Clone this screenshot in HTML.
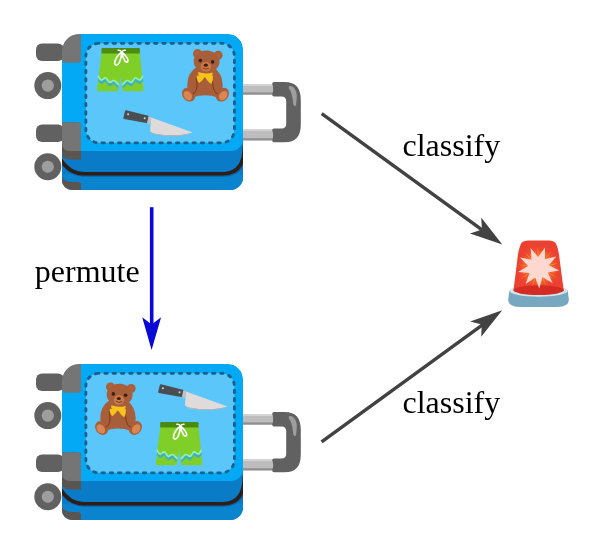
<!DOCTYPE html>
<html><head><meta charset="utf-8"><style>
html,body{margin:0;padding:0;background:#fff;width:600px;height:554px;overflow:hidden}
svg{display:block}
text{font-family:"Liberation Serif",serif;font-size:32px;fill:#000}
svg{will-change:transform}
</style></head><body>
<svg width="600" height="554" viewBox="0 0 600 554">
<defs>
<radialGradient id="glow"><stop offset="0.4" stop-color="#f66a2c" stop-opacity="1"/><stop offset="0.7" stop-color="#f2582e" stop-opacity="0.7"/><stop offset="1" stop-color="#ec4130" stop-opacity="0"/></radialGradient>
<clipPath id="bodyclip"><path d="M62,58 H80.5 V34 H228 A15,15 0 0 1 243,49 V177.4 A12.6,12.6 0 0 1 230.4,190 H72 A10,10 0 0 1 62,180 Z"/></clipPath>
<g id="lug">
  <!-- bumpers -->
  <rect x="36" y="43.5" width="28" height="17.5" rx="6" fill="#616161"/>
  <rect x="36" y="124.5" width="28" height="17.5" rx="6" fill="#616161"/>
  <!-- wheels -->
  <circle cx="47.8" cy="85.6" r="13.5" fill="#616161"/>
  <circle cx="47.8" cy="85.6" r="6.1" fill="#9e9e9e"/>
  <circle cx="47.8" cy="166.8" r="13.5" fill="#616161"/>
  <circle cx="47.8" cy="166.8" r="6.1" fill="#9e9e9e"/>
  <!-- handle rods -->
  <rect x="240" y="84" width="35" height="10.6" fill="#bdbdbd"/>
  <rect x="240" y="84" width="35" height="2" fill="#d3d3d3"/>
  <rect x="240" y="92.4" width="35" height="2.2" fill="#8f8f8f"/>
  <rect x="240" y="129" width="35" height="11.4" fill="#bdbdbd"/>
  <rect x="240" y="129" width="35" height="2" fill="#d3d3d3"/>
  <rect x="240" y="138.2" width="35" height="2.2" fill="#8f8f8f"/>
  <!-- grip -->
  <path d="M274,82 H284.5 C296,82 300.8,88 300.8,100 V124.3 C300.8,136.3 296,142.3 284.5,142.3 H274 Q272.2,142.3 272.2,140.5 Q274.2,135.4 272.2,130.2 Q272.2,128.4 274,128.4 H281.5 Q286.2,128.4 286.2,123.7 V101.2 Q286.2,96.5 281.5,96.5 H274 Q272.2,96.5 272.2,94.7 Q274.2,89.3 272.2,83.8 Q272.2,82 274,82 Z" fill="#616161"/>
  <path d="M289,86.3 Q291.5,85.3 294,87.8 Q297,91.5 296.8,97.5 L296.2,104.5 Q295.8,106.5 294.5,106 Q293.5,105.5 293.1,103.5 Q292.5,95.5 290.5,91 Q288,87.8 289,86.3 Z" fill="#9e9e9e"/>
  <g clip-path="url(#bodyclip)">
    <!-- side band -->
    <rect x="60" y="120" width="190" height="75" fill="#0a7bc7"/><rect x="60" y="174" width="190" height="21" fill="#0b84d0"/>
    <!-- top face -->
    <path d="M62,34 H228 A15,15 0 0 1 243,49 V139 A12,12 0 0 1 231,151 H62 Z" fill="#03a9f4"/>
    <!-- grey corner pieces -->
    <path d="M62,122.5 H78 Q81,122.5 81,125.5 V159.4 H70 Q62,159.4 62,154 Z" fill="#5b5552"/>
    <path d="M62,122.5 H78 Q81,122.5 81,125.5 V151 H70 Q62,151 62,143 Z" fill="#757575"/>
    <!-- zipper line -->
    <path d="M54,147.2 Q64,174.9 84,174.9 H223 Q245.6,174.9 245.6,147.2" stroke="#0a60a8" stroke-width="3.6" fill="none"/>
    <path d="M54,146 Q64,173.7 84,173.7 H223 Q244.4,173.7 244.4,146" stroke="#2d1f18" stroke-width="3.6" fill="none"/>
    <!-- lower grey piece -->
    <path d="M61,175.5 C63,179.5 66.5,181.8 73,182.1 H78 Q81,182.1 81,185.1 V195 H61 Z" fill="#5b5552"/>
  </g>
    <path d="M62,51.3 A17.3,17.3 0 0 1 79.3,34 H81 V59.8 Q81,62.8 78,62.8 H66 Q62,62.8 62,58.8 Z" fill="#757575"/>
  <!-- panel -->
  <rect x="85.9" y="43.3" width="148.5" height="99.5" rx="13" fill="#5bc6f9"/>
  <rect x="85.9" y="43.3" width="148.5" height="99.5" rx="13" fill="none" stroke="#1d5f88" stroke-width="2.8" stroke-dasharray="2.5 5.777" stroke-dashoffset="-5.922" stroke-linecap="round"/>
</g>

<g id="shorts">
  <path d="M101.5,53 H139.8 L143.6,89.8 Q143.7,91.3 142.2,91.3 H124 Q122.8,91.3 122.6,90 L120.5,76.2 L118.3,90 Q118.1,91.3 117,91.3 H98.4 Q96.9,91.3 97,89.8 Z" fill="#80cf28"/>
  <path d="M98.5,76.3 C99.5,78.5 100.5,80 101.5,80 C103,80 104,77.9 105.4,77.9 C107.3,77.9 108,82.4 109.7,82.4 C111.5,82.4 112,80.5 113.6,80.5 C115.5,80.5 116.5,83 118.3,84.4 L117.6,88.6 C116,87.2 115.5,84.5 113.6,84.5 C112,84.5 111.5,86.4 109.7,86.4 C108,86.4 107.3,81.9 105.4,81.9 C104,81.9 103,84 101.5,84 C100.5,84 99.5,82.5 98.1,81 Z" fill="#42b0b9"/>
  <path d="M 142.5,76.3 C 141.5,78.5 140.5,80 139.5,80 C 138,80 137,77.9 135.6,77.9 C 133.7,77.9 133,82.4 131.3,82.4 C 129.5,82.4 129,80.5 127.4,80.5 C 125.5,80.5 124.5,83 122.7,84.4 L 123.4,88.6 C 125,87.2 125.5,84.5 127.4,84.5 C 129,84.5 129.5,86.4 131.3,86.4 C 133,86.4 133.7,81.9 135.6,81.9 C 137,81.9 138,84 139.5,84 C 140.5,84 141.5,82.5 142.9,81 Z" fill="#42b0b9"/>
  <path d="M98.5,76.3 C99.5,78.5 100.5,80 101.5,80 C103,80 104,77.9 105.4,77.9 C107.3,77.9 108,82.4 109.7,82.4 C111.5,82.4 112,80.5 113.6,80.5 C115.5,80.5 116.5,83 118.3,84.4" stroke="#93efb6" stroke-width="1.7" fill="none" stroke-linecap="round"/>
  <path d="M 142.5,76.3 C 141.5,78.5 140.5,80 139.5,80 C 138,80 137,77.9 135.6,77.9 C 133.7,77.9 133,82.4 131.3,82.4 C 129.5,82.4 129,80.5 127.4,80.5 C 125.5,80.5 124.5,83 122.7,84.4" stroke="#93efb6" stroke-width="1.7" fill="none" stroke-linecap="round"/>
  <path d="M101.5,53.6 V49.2 Q101.5,48 102.7,48 H138.6 Q139.8,48 139.8,49.2 V53.6 Z" fill="#4b8b12"/>
  <path d="M118.3,50.3 Q120,50 121.7,51.8 Q123.5,50 125.2,50.3 M121.7,51.8 C117.5,55 114.2,60.5 114.8,63.8 C115.5,66 118.3,65 119.5,62.3 C120.9,59 121.7,55.5 121.7,51.8 C124,54 127.5,57.3 128,60.2 C128.3,62.4 126.2,62.8 124.9,61 C123.2,58.3 122.2,55.2 121.7,51.8" stroke="#fff" stroke-width="1.6" fill="none" stroke-linejoin="round" stroke-linecap="round"/>
</g>

<g id="bear">
  <path d="M196.5,67 Q187.3,73 187.3,85 Q187.2,94 193,97.5 Q198,95.3 205,95.3 Q212,95.3 217,97.5 Q222.8,94 222.7,85 Q222.3,73 213.5,67 Z" fill="#a95e3a"/>
  <ellipse cx="188.6" cy="94.7" rx="6" ry="7.4" transform="rotate(-38 188.6 94.7)" fill="#a95e3a"/>
  <ellipse cx="187.8" cy="95.6" rx="3.7" ry="5.1" transform="rotate(-38 187.8 95.6)" fill="#db8550"/>
  <ellipse cx="222.4" cy="94.7" rx="6" ry="7.4" transform="rotate(38 222.4 94.7)" fill="#a95e3a"/>
  <ellipse cx="223.2" cy="95.6" rx="3.7" ry="5.1" transform="rotate(38 223.2 95.6)" fill="#db8550"/>
  <path d="M196.3,78 Q198,87 195.5,91.5 Q194.5,93.3 192.5,93.8" stroke="#7a3a16" stroke-width="1" fill="none"/>
  <path d="M212.6,78 Q212.3,87 214.7,91.5 Q215.7,93.3 217.8,93.8" stroke="#7a3a16" stroke-width="1" fill="none"/>
  <circle cx="197.5" cy="53.6" r="4.5" fill="#a95e3a"/>
  <circle cx="197.8" cy="54.1" r="2.4" fill="#b5653a"/>
  <circle cx="218.1" cy="55.2" r="4.5" fill="#a95e3a"/>
  <circle cx="217.8" cy="55.6" r="2.4" fill="#b5653a"/>
  <ellipse cx="206.6" cy="61.4" rx="13" ry="10.9" transform="rotate(5 206.6 61.4)" fill="#a95e3a"/>
  <ellipse cx="205.9" cy="66.7" rx="5.2" ry="4.7" fill="#cb7b4b"/>
  <path d="M202.6,67.7 Q205.9,70.6 209.2,68.1" stroke="#7a3a1a" stroke-width="1" fill="none"/>
  <circle cx="200.3" cy="60.6" r="1.8" fill="#3b1f12"/>
  <circle cx="212.6" cy="61.9" r="1.8" fill="#3b1f12"/>
  <ellipse cx="205.8" cy="65.2" rx="2.1" ry="1.6" fill="#3b1f12"/>
  <path d="M198.2,72 Q205.5,74.6 212.6,72.6 L212.3,75.4 Q208.5,77.6 205.2,77.6 Q201.5,77.4 198.4,75 Z" fill="#f7c21b"/>
  <path d="M205,76.3 L197,75.4 Q196.2,80 199.3,83 Q203,80.5 205,76.3 Z" fill="#f7c21b"/>
  <path d="M205,76.3 L212.6,75.6 Q213.8,80 211.2,84 Q207,81.5 205,76.3 Z" fill="#f7c21b"/>
</g>

<g id="knife">
  <path d="M126,111.2 L147.9,116.6 L146.4,122 L124.3,118 Z" fill="#4a4d52" stroke="#4a4d52" stroke-width="2" stroke-linejoin="round"/>
  <circle cx="128.1" cy="114.3" r="1" fill="#d6d6d6"/>
  <circle cx="144.7" cy="118.3" r="1" fill="#d6d6d6"/>
  <path d="M148.4,116.2 L151.4,117.2 L150.2,124 L147.2,123.2 Z" fill="#c4c0c0"/>
  <path d="M151.1,117.4 L192.8,132.4 Q187,134.3 180,135.1 Q167,136 155.5,133.8 Q150.3,132.7 150.2,131 Z" fill="#dfdbdb"/>
  <path d="M150.2,131 Q150.3,132.7 155.5,133.8 Q167,136 180,135.1 Q187,134.3 192.8,132.4 Q187.5,135.3 180,136.1 Q167,137 155.3,134.8 Q150.3,133.6 150.2,131 Z" fill="#b5b3b3"/>
</g>
</defs>

<use href="#lug"/>
<use href="#shorts"/>
<use href="#bear"/>
<use href="#knife"/>

<use href="#lug" transform="translate(0,330)"/>
<use href="#bear" transform="translate(-87,333.3)"/>
<use href="#knife" transform="translate(34.8,274)"/>
<use href="#shorts" transform="translate(58.7,374)"/>

<!-- permute arrow -->
<line x1="151.7" y1="207.2" x2="151.7" y2="330" stroke="#0808d8" stroke-width="3.6"/>
<path d="M151.6,350.1 L142.2,317.2 L151.6,324.4 L161.1,317.2 Z" fill="#0808d8"/>
<text x="34.8" y="282.2">permute</text>

<!-- classify arrows -->
<line x1="321.7" y1="113.6" x2="490" y2="235.7" stroke="#424242" stroke-width="3.5"/>
<path d="M502.3,244.6 L481.2,217.6 L482,229.4 L470,233.6 Z" fill="#424242"/>
<line x1="321.6" y1="441.9" x2="490" y2="319.3" stroke="#424242" stroke-width="3.5"/>
<path d="M502.2,310.2 L470.1,321.5 L481.8,324.5 L481.2,336.8 Z" fill="#424242"/>
<text x="402.5" y="155.7">classify</text>
<text x="402.5" y="413">classify</text>

<!-- siren -->
<g id="siren">
  <path d="M509.4,290.5 L508.2,300 Q508.3,306.6 520,307 H557.2 Q568.8,306.6 568.9,300 L567.8,290.5 Z" fill="#78a8c0"/>
  <ellipse cx="538.6" cy="290.8" rx="29.2" ry="6" fill="#d2e5ee"/>
  <path d="M513.5,290 L517.1,262 C517.8,254 518.8,249 520.3,245.2 C521.8,241.4 524.3,240.5 530,240.5 H547 C552.7,240.5 555.2,241.4 556.7,245.2 C558.2,249 559.2,254 559.9,262 L563.7,290 Z" fill="#ec4130"/>
  <circle cx="538.5" cy="267.5" r="23" fill="url(#glow)"/><path d="M546.3,269.3 L556.1,273.2 L545.9,270.7 Z M545.2,271.8 L553.1,278.9 L544.3,273.0 Z M545.9,270.4 L557.0,277.4 L545.1,272.0 Z M543.3,273.9 L548.3,283.2 L542.1,274.6 Z M540.9,275.1 L542.3,285.6 L539.4,275.4 Z M542.3,274.5 L546.4,287.0 L540.7,275.2 Z M538.1,275.5 L535.9,285.8 L536.7,275.3 Z M535.4,274.9 L529.8,283.8 L534.1,274.2 Z M536.9,275.3 L532.0,287.5 L535.2,274.8 Z M533.1,273.4 L524.8,279.9 L532.1,272.3 Z M531.4,271.2 L521.3,274.4 L530.8,269.8 Z M532.2,272.5 L520.7,278.6 L531.3,271.0 Z M530.6,268.5 L520.0,268.1 L530.5,267.1 Z M530.7,265.7 L520.9,261.8 L531.1,264.3 Z M530.5,267.3 L517.7,264.6 L530.8,265.5 Z M531.8,263.2 L523.9,256.1 L532.7,262.0 Z M533.7,261.1 L528.7,251.8 L534.9,260.4 Z M532.5,262.2 L524.4,251.9 L533.8,261.0 Z M536.1,259.9 L534.7,249.4 L537.6,259.6 Z M538.9,259.5 L541.1,249.2 L540.3,259.7 Z M537.3,259.6 L537.8,246.5 L539.1,259.5 Z M541.6,260.1 L547.2,251.2 L542.9,260.8 Z M543.9,261.6 L552.2,255.1 L544.9,262.7 Z M542.7,260.7 L551.4,251.0 L544.1,261.8 Z M545.6,263.8 L555.7,260.6 L546.2,265.2 Z M546.4,266.5 L557.0,266.9 L546.5,267.9 Z M546.1,265.0 L559.0,263.1 L546.5,266.7 Z" fill="#f98a2c" opacity="0.95"/>
  <ellipse cx="538.6" cy="290.2" rx="25.1" ry="4.9" fill="#d42c22"/>
  <polygon fill="#fcd8d0" points="559.3,270.4 547.8,272.4 552.6,283.1 542.4,277.2 539.2,288.5 535.3,277.5 525.6,284.0 529.6,273.1 518.0,271.9 528.1,266.0 520.0,257.6 531.5,259.7 530.6,248.0 538.1,257.0 545.0,247.5 545.0,259.2 556.3,256.4 548.8,265.3"/>
</g>
</svg>


</body></html>
